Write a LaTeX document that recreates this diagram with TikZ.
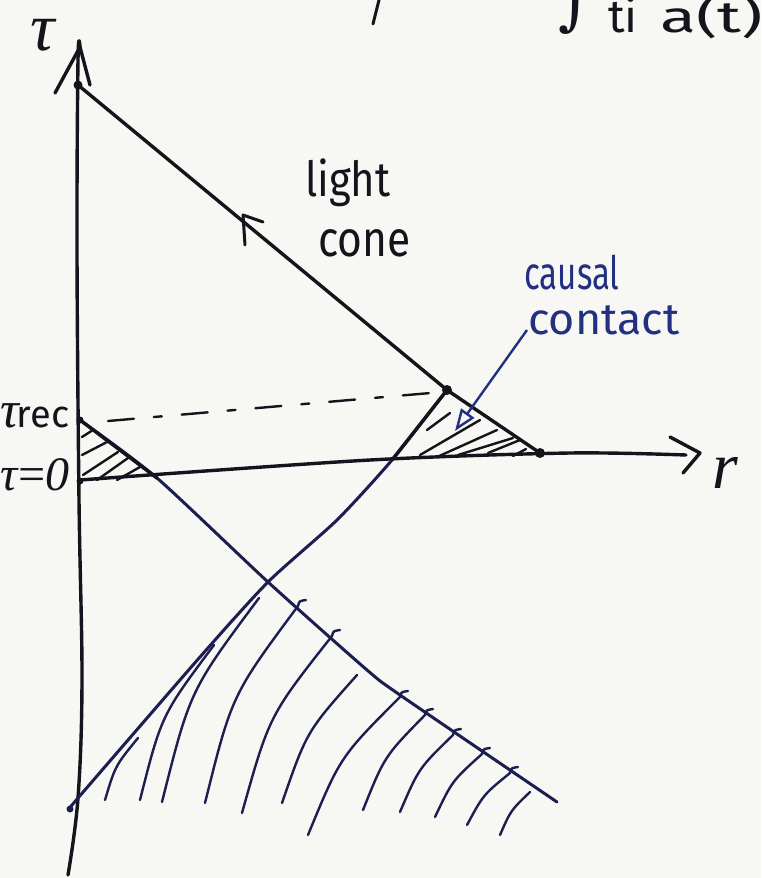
\documentclass[tikz,border=0pt]{standalone}
\usepackage{fontspec}
\usepackage{graphicx}
\newfontfamily\hand{Fira Sans}
\newfontfamily\grk{Liberation Serif}
\newfontfamily\intf{DejaVu Serif}
\usetikzlibrary{arrows.meta,calc}
\definecolor{ink}{RGB}{20,20,28}
\definecolor{navy}{RGB}{28,30,80}
\definecolor{bluepen}{RGB}{35,48,130}
\definecolor{paper}{RGB}{247,247,244}
\newcommand\hst[4]{\draw[hatb] (#1,#2) .. controls ($(#1,#2)!0.5!(#3,#4)!0.2!90:(#3,#4)$) .. (#3,#4);}
\newcommand\hook[2]{\draw[hatb] (#1,#2) .. controls +(1,-6) and +(-5,1) .. +(8,-6);}
\begin{document}
\begin{tikzpicture}[x=1pt,y=-1pt,
  blk/.style={draw=ink,line width=3.4pt,line cap=round,line join=round},
  nav/.style={draw=navy,line width=3pt,line cap=round,line join=round},
  hat/.style={draw=ink,line width=2.4pt,line cap=round},
  hatb/.style={draw=navy,line width=2.4pt,line cap=round},
  lab/.style={text=ink,inner sep=0pt}
]
\useasboundingbox (0,0) rectangle (761,878);
\fill[paper] (0,0) rectangle (761,878);
\begin{scope}
\clip (0,0) rectangle (761,878);
% partial text at top edge
\draw[blk,line width=3pt] (380,-4) -- (373,24);
\node[lab,anchor=base west,font=\intf\fontsize{66}{66}\selectfont] (int) at (558,22) {∫};
\node[lab,anchor=base west,font=\hand\fontsize{46}{46}\selectfont] (ti) at (608,32) {ti};
\node[lab,anchor=base west,font=\hand\fontsize{44}{44}\selectfont] (at) at (660,32) {\scalebox{1.5}[1]{a(t)}};
\end{scope}

% tau axis
\draw[blk] plot[smooth,tension=0.6] coordinates {(68,875) (78,798) (82,680) (79,500) (77,250) (78,60) (80,47)};
\draw[blk] (55,93) -- (80,47) -- (90,85);
% r axis
\draw[blk] plot[smooth,tension=0.5] coordinates {(80,480) (370,460) (570,453) (686,455)};
\draw[blk] (670,437) -- (700,453) -- (683,473);

% labels
\node[lab,anchor=base west,text height=30pt,text depth=2pt,font=\grk\itshape\fontsize{68}{68}\selectfont] (tau) at (30,50) {τ};
\node[lab,anchor=base west,text height=30pt,text depth=2pt,font=\grk\itshape\fontsize{66}{66}\selectfont] (rlab) at (712,488) {r};
\node[lab,anchor=base west] (taurec) at (0,427) {{\grk\itshape\fontsize{52}{52}\selectfont τ}\hspace{-2pt}{\hand\fontsize{38}{38}\selectfont rec}};
\node[lab,anchor=base west,font=\grk\itshape\fontsize{48}{48}\selectfont] (tau0) at (0,490) {τ\hspace{-2pt}=\hspace{-2pt}0};
\node[lab,anchor=base west,font=\hand\fontsize{44}{44}\selectfont] (light) at (305,196) {\scalebox{0.95}[1.1]{light}};
\node[lab,anchor=base west,font=\hand\fontsize{50}{50}\selectfont] (cone) at (318,256) {\scalebox{0.85}[1]{cone}};
\node[lab,text=bluepen,anchor=base west,font=\hand\fontsize{46}{46}\selectfont] (causal) at (524,289) {\scalebox{0.72}[1]{causal}};
\node[lab,text=bluepen,anchor=base west,font=\hand\fontsize{44}{44}\selectfont] (contact) at (528,334) {\scalebox{1.02}[1]{contact}};

% small hatched triangle at origin
\draw[hat] (82,437) -- (93,430);
\draw[hat] (82,455) -- (107,442);
\draw[hat] (83,475) -- (118,452);
\draw[hat] (97,480) -- (128,458);
\draw[hat] (117,480) -- (140,467);

% causal-contact hatched triangle
\draw[hat] (427,430) -- (450,413);
\draw[hat] (420,455) -- (480,420);
\draw[hat] (437,457) -- (497,430);
\draw[hat] (458,455) -- (513,438);
\draw[hat] (488,453) -- (520,440);
\draw[hat] (513,456) -- (526,449);

% big hatched region
\hst{105}{800}{138}{738}
\hst{140}{800}{214}{645}
\hst{162}{802}{259}{598}
\hst{205}{803}{298}{606}
\hst{242}{813}{332}{636}
\hst{282}{803}{357}{675}
\hst{308}{835}{400}{697}
\hst{363}{810}{425}{715}
\hst{400}{812}{453}{735}
\hst{435}{817}{482}{754}
\hst{467}{825}{510}{773}
\hst{500}{835}{530}{792}
\hook{298}{606}
\hook{332}{636}
\hook{400}{697}
\hook{425}{715}
\hook{453}{735}
\hook{482}{754}
\hook{510}{773}

% descending line from tau_rec
\draw[nav] plot[smooth,tension=0.4] coordinates {(80,420) (157,478) (268,582) (367,670) (400,695) (557,802)};
\draw[blk] (80,420) -- (157,478);
% ascending line
\draw[nav] plot[smooth,tension=0.4] coordinates {(70,808) (78,798) (200,657) (268,582) (337,520) (392,460) (447,390)};
\draw[blk] (392,460) -- (447,390);

% light cone
\draw[blk] (78,85) -- (447,390) -- (540,453);
\draw[blk,line width=3pt] (263,222) -- (243,215) -- (245,245);

% dashed tau_rec line
\draw[blk,line width=2.4pt,dash pattern=on 26pt off 20pt on 8pt off 20pt] (108,421) -- (442,392);

% dots
\fill[ink] (78,85) circle (4.5);
\fill[ink] (447,390) circle (5);
\fill[ink] (540,453) circle (5);
\fill[ink] (80,420) circle (3.5);
\fill[ink] (80,481) circle (3.5);
\fill[navy] (70,809) circle (3.5);

% causal contact pointer
\coordinate (pstart) at (527,330);
\coordinate (ptip) at (455,431);
\draw[bluepen,line width=2.4pt,-{Triangle[open,length=22pt,width=16pt]}] (pstart) -- (ptip);
\end{tikzpicture}
\end{document}
